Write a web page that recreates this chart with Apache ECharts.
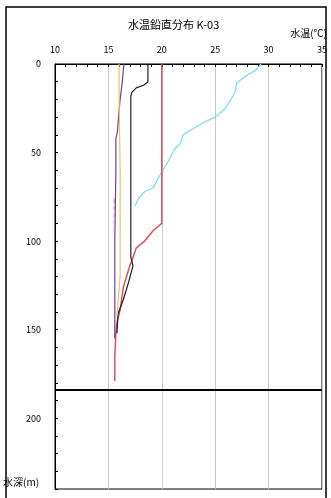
<!DOCTYPE html>
<html>
<head>
<meta charset="utf-8">
<script src="https://cdn.jsdelivr.net/npm/echarts@6/dist/echarts.min.js"></script>
<style>
html,body{margin:0;padding:0;background:#fff;}
#c{width:331px;height:498px;}
</style>
</head>
<body>
<div id="c"></div>
<script>
// Temperature (°C), depth (m) pairs for each profile
const cyanTemp  = [29.3, 28.7, 27.8, 27.0, 26.9, 26.5, 25.8, 25.0, 23.9, 22.8, 22.0, 21.7, 21.2, 20.5, 19.8, 19.2, 18.4, 17.8, 17.5];
const cyanDepth = [0, 4, 7, 11, 15, 20, 26, 30, 33, 37, 40, 45, 48, 56, 63, 70, 72, 76, 80];

const redTemp  = [20.0, 20.0, 19.2, 18.4, 17.6, 17.2, 17.0, 16.7, 16.4, 16.1, 15.8, 15.7, 15.6, 15.6];
const redDepth = [0, 90, 94, 100, 104, 111, 114, 120, 126, 139, 146, 152, 165, 179];

const blackTemp  = [18.7, 18.7, 18.3, 17.6, 17.2, 17.1, 17.1, 17.3, 16.9, 16.4, 15.9, 15.8];
const blackDepth = [0, 10, 12, 13.5, 16, 18, 109, 114, 123, 133, 141, 152];

const purpleTemp  = [16.45, 16.3, 16.1, 15.95, 15.85, 15.7, 15.7, 15.6, 15.6];
const purpleDepth = [0, 10, 20, 30, 38, 42, 60, 100, 155];

const yellowTemp  = [16.0, 16.0, 16.05, 16.1, 16.1, 16.1, 16.0, 15.9, 15.8];
const yellowDepth = [0, 20, 40, 60, 100, 120, 127, 135, 142];

const pinkTemp  = [15.55, 15.55];
const pinkDepth = [76, 96];

const bottomDepth = 184;
const xTicks = [10, 15, 20, 25, 30, 35];
const yLabelTicks = [0, 50, 100, 150, 200];

function pairs(t, d) { return t.map((v, i) => [v, d[i]]); }

const chart = echarts.init(document.getElementById('c'));
const font = '"Noto Sans CJK JP", "DejaVu Sans", sans-serif';

function line(name, t, d, color, width, type) {
  return {
    name: name, type: 'line', data: pairs(t, d), symbol: 'none',
    lineStyle: { color: color, width: width, type: type || 'solid' },
    animation: false, z: 3
  };
}

chart.setOption({
  animation: false,
  grid: { left: 55, right: 9, top: 64, bottom: 9, show: true, borderColor: '#000', borderWidth: 1 },
  xAxis: {
    type: 'value', position: 'top', min: xTicks[0], max: xTicks[xTicks.length - 1], interval: 5,
    axisLine: { show: true, lineStyle: { color: '#000', width: 1 } },
    axisTick: { show: true, inside: true, length: 3, lineStyle: { color: '#000' } },
    minorTick: { show: true, splitNumber: 5, length: 3, lineStyle: { color: '#000' } },
    splitLine: { show: true, lineStyle: { color: '#c8c8c8', width: 1 } },
    axisLabel: { fontSize: 9, color: '#000', margin: 10, fontFamily: font,
      formatter: v => xTicks.indexOf(v) >= 0 ? String(v) : '' }
  },
  yAxis: {
    type: 'value', inverse: true, min: 0, max: 240, interval: 10,
    axisLine: { show: true, lineStyle: { color: '#000', width: 1 } },
    axisTick: { show: true, inside: true, length: 3, lineStyle: { color: '#000' } },
    splitLine: { show: false },
    axisLabel: { fontSize: 9, color: '#000', margin: 14, fontFamily: font,
      formatter: v => yLabelTicks.indexOf(v) >= 0 ? String(v) : '' }
  },
  graphic: [
    { type: 'rect', shape: { x: 6, y: 7, width: 320, height: 500 }, style: { fill: 'none', stroke: '#000', lineWidth: 1.5 }, silent: true },
    { type: 'text', left: 128, top: 19, style: { text: '水温鉛直分布 K-03', fontSize: 11, fill: '#000', fontFamily: font } },
    { type: 'text', right: 4, top: 28, style: { text: '水温(℃)', fontSize: 10, fill: '#000', fontFamily: font } },
    { type: 'text', left: 3, top: 477, style: { text: '水深(m)', fontSize: 10, fill: '#000', fontFamily: font } }
  ],
  series: [
    line('cyan', cyanTemp, cyanDepth, '#70e0e8', 1.2),
    line('red', redTemp, redDepth, '#e05060', 1.5),
    line('black', blackTemp, blackDepth, '#202020', 1.2),
    line('purple', purpleTemp, purpleDepth, '#6a3cb0', 1.2),
    line('yellow', yellowTemp, yellowDepth, '#e8c850', 1.2),
    line('pink', pinkTemp, pinkDepth, '#e07ac0', 1.2, 'dashed'),
    {
      type: 'line', data: [], symbol: 'none',
      markLine: { silent: true, symbol: 'none', label: { show: false },
        lineStyle: { color: '#000', width: 2, type: 'solid' },
        data: [{ yAxis: bottomDepth }] }
    }
  ]
});
</script>
</body>
</html>
